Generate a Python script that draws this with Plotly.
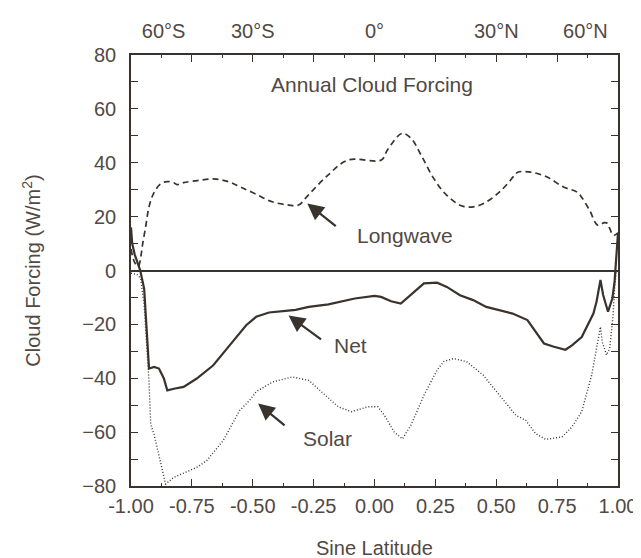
import numpy as np
import plotly.graph_objects as go

INK = "#3a322c"
TEXT = "#514943"
FONT = "Liberation Sans, Arial, sans-serif"

# sine latitude / cloud forcing (W/m2)
lw_x = [-1.000, -0.985, -0.970, -0.960, -0.953, -0.939, -0.925, -0.905, -0.878, -0.851,
        -0.824, -0.811, -0.784, -0.720, -0.660, -0.600, -0.550, -0.486, -0.420, -0.353,
        -0.312, -0.272, -0.191, -0.109, 0.028, 0.053, 0.113, 0.150, 0.191, 0.243,
        0.296, 0.365, 0.434, 0.514, 0.575, 0.588, 0.642, 0.709, 0.776, 0.830,
        0.850, 0.883, 0.917, 0.944, 0.957, 0.966, 0.981, 1.000]
lw_y = [8, 3, 1.5, 5, 9.3, 16.7, 24, 29, 32.2, 33,
        32.6, 31.9, 32.6, 33.5, 34, 33, 31, 28.3, 25.5, 24.3,
        24.3, 28, 35.4, 41, 41, 44.7, 50.9, 49.1, 42.9, 34.2,
        28, 23.8, 24.3, 29.2, 35.3, 36.5, 36.5, 34.7, 31, 29.2,
        27.3, 22.4, 16.8, 17.8, 17.5, 15.6, 13.1, 14]

net_x = [-1.000, -0.995, -0.985, -0.975, -0.962, -0.946, -0.932, -0.926, -0.905, -0.885,
         -0.865, -0.851, -0.824, -0.784, -0.730, -0.662, -0.595, -0.527, -0.486, -0.433,
         -0.365, -0.324, -0.270, -0.189, -0.081, 0.000, 0.027, 0.068, 0.108, 0.149,
         0.203, 0.257, 0.297, 0.351, 0.405, 0.459, 0.514, 0.567, 0.628, 0.662,
         0.696, 0.737, 0.784, 0.811, 0.851, 0.899, 0.912, 0.928, 0.939, 0.959,
         0.977, 0.986, 0.993, 1.000]
net_y = [16, 10, 6, 3, 0, -6.7, -25.3, -36.4, -35.8, -36.4,
         -40.1, -44.5, -43.9, -43.2, -40.1, -35.2, -27.8, -20.3, -17.2, -15.6,
         -15, -14.6, -13.5, -12.6, -10.4, -9.4, -9.8, -11.4, -12.3, -9.2,
         -4.8, -4.5, -6.1, -9.2, -11, -13.5, -14.8, -16, -18.4, -22.8,
         -27.1, -28.3, -29.4, -27.8, -24.7, -16, -11.5, -3.5, -9.1, -15.3,
         -10.3, -4, 5, 14]

sw_x = [-1.000, -0.975, -0.960, -0.946, -0.926, -0.919, -0.905, -0.858, -0.824, -0.730,
        -0.689, -0.622, -0.554, -0.514, -0.486, -0.419, -0.338, -0.270, -0.202, -0.149,
        -0.095, -0.027, 0.014, 0.041, 0.081, 0.115, 0.149, 0.203, 0.257, 0.284,
        0.324, 0.378, 0.446, 0.514, 0.581, 0.621, 0.662, 0.703, 0.770, 0.811,
        0.851, 0.892, 0.919, 0.928, 0.935, 0.953, 0.966, 0.980, 0.986, 0.993, 1.000]
sw_y = [-1, -1.5, -3, -12.9, -41.3, -57.2, -60.9, -79.3, -76.8, -73.1,
        -70.6, -63.2, -52, -48.3, -45, -41.4, -39.5, -40.8, -46.3, -50.6,
        -52.4, -50.6, -50.6, -53.8, -60, -62.5, -57.5, -46.3, -37, -33.8,
        -32.7, -33.8, -38.8, -46.3, -53.8, -55.6, -60.6, -62.7, -61.8, -58.1,
        -52.4, -38.8, -26.4, -20.9, -26.4, -31.4, -28.9, -16.5, -6.7, -0.5, 0]

x_ticks = [-1.0, -0.75, -0.5, -0.25, 0.0, 0.25, 0.5, 0.75, 1.0]
y_ticks = [-80, -60, -40, -20, 0, 20, 40, 60, 80]
lat_deg = [-60, -30, 0, 30, 60]
lat_text = ["60°S", "30°S", "0°", "30°N", "60°N"]

fig = go.Figure()

fig.add_trace(go.Scatter(x=lw_x, y=lw_y, mode="lines", line=dict(color=INK, width=1.7, dash="6px,4px"),
                         line_shape="spline", showlegend=False))
fig.add_trace(go.Scatter(x=net_x, y=net_y, mode="lines", line=dict(color=INK, width=2.2),
                         showlegend=False))
fig.add_trace(go.Scatter(x=sw_x, y=sw_y, mode="lines", line=dict(color=INK, width=1.4, dash="1px,2px"),
                         showlegend=False))
# invisible trace to drive the top latitude axis
fig.add_trace(go.Scatter(x=[-1, 1], y=[0, 0], xaxis="x2", mode="lines",
                         line=dict(width=0), hoverinfo="skip", showlegend=False))

tick_font = dict(family=FONT, size=20, color=TEXT)

fig.update_layout(
    width=641, height=558,
    paper_bgcolor="white", plot_bgcolor="white",
    margin=dict(l=123, r=24, t=45, b=80),
    font=dict(family=FONT, color=TEXT),
    xaxis=dict(
        range=[-1, 1], tickvals=x_ticks, ticktext=[f"{v:.2f}" for v in x_ticks],
        ticks="inside", ticklen=7, tickwidth=1.3, tickcolor=INK,
        minor=dict(dtick=0.125, ticks="inside", ticklen=3, tickcolor=INK, tickwidth=1.1),
        showline=True, linecolor=INK, linewidth=1.6, mirror="allticks",
        showgrid=False, zeroline=False, tickfont=tick_font, ticklabelstandoff=1,
    ),
    xaxis2=dict(
        overlaying="x", side="top", range=[-1, 1],
        tickvals=list(np.sin(np.radians(lat_deg))), ticktext=lat_text,
        ticks="", showline=False, showgrid=False, zeroline=False,
        tickfont=tick_font, ticklabelstandoff=12,
    ),
    yaxis=dict(
        range=[-80, 80], tickvals=y_ticks,
        ticks="inside", ticklen=7, tickwidth=1.3, tickcolor=INK,
        minor=dict(dtick=10, ticks="inside", ticklen=4, tickcolor=INK, tickwidth=1.1),
        showline=True, linecolor=INK, linewidth=1.6, mirror="allticks",
        showgrid=False, zeroline=True, zerolinecolor=INK, zerolinewidth=1.6,
        tickfont=tick_font, ticklabelstandoff=9,
    ),
)

ann_font = dict(family=FONT, size=21, color=TEXT)
fig.add_annotation(x=-0.01, y=69, text="Annual Cloud Forcing", showarrow=False, font=ann_font)
fig.add_annotation(x=0.125, y=13, text="Longwave", showarrow=False, font=ann_font)
fig.add_annotation(x=-0.10, y=-28, text="Net", showarrow=False, font=ann_font)
fig.add_annotation(x=-0.195, y=-62.5, text="Solar", showarrow=False, font=ann_font)

arrow = dict(text="", showarrow=True, arrowhead=2, arrowsize=1.5, arrowwidth=2.2, arrowcolor=INK)
fig.add_annotation(x=-0.276, y=24.9, ax=30, ay=24, **arrow)
fig.add_annotation(x=-0.353, y=-16.7, ax=34, ay=25, **arrow)
fig.add_annotation(x=-0.478, y=-49.4, ax=28, ay=23, **arrow)

fig.add_annotation(x=-0.205, y=0.5, xref="paper", yref="paper", xanchor="center", yanchor="middle",
                   textangle=-90, text="Cloud Forcing (W/m<sup>2</sup>)", showarrow=False,
                   font=dict(family=FONT, size=20, color=TEXT))
fig.add_annotation(x=0.5, y=-0.145, xref="paper", yref="paper", yanchor="middle",
                   text="Sine Latitude", showarrow=False,
                   font=dict(family=FONT, size=20, color=TEXT))

fig.write_html("out.html")
